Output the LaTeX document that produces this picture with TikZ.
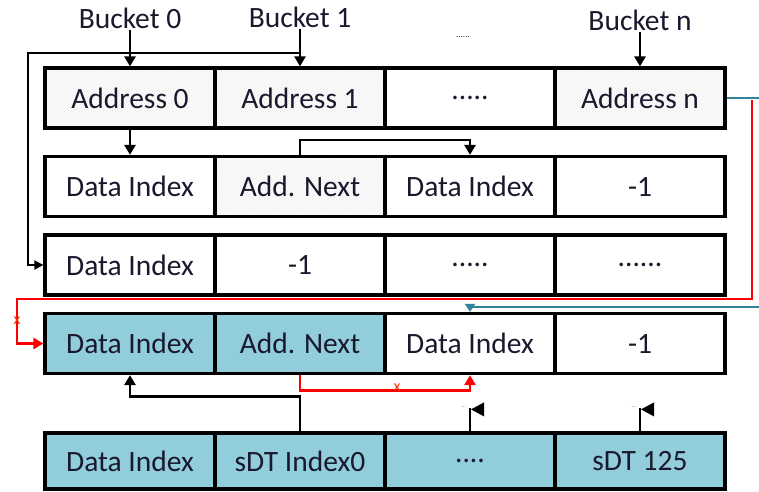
\documentclass[tikz,border=0pt]{standalone}
\usepackage{fontspec}
\setmainfont{Carlito}
\usetikzlibrary{arrows.meta,patterns,calc}
\definecolor{cellblue}{RGB}{146,205,220}
\definecolor{tealc}{RGB}{49,132,155}
\definecolor{txt}{RGB}{25,25,45}
\begin{document}
\begin{tikzpicture}[x=1pt,y=-1pt,
  cell/.style={draw,line width=3.2pt,minimum width=170pt,minimum height=60pt,inner sep=0pt,text=txt,font=\fontsize{29.5}{33}\selectfont},
  hatch/.style={pattern=north east lines,pattern color=black!9},
  bluec/.style={fill=cellblue},
  lbl/.style={text=txt,font=\fontsize{29.5}{33}\selectfont,inner sep=1pt},
  arr/.style={line width=2.8pt,-{Triangle[length=10pt,width=11pt]}},
  thinarr/.style={line width=1.8pt,-{Triangle[length=9pt,width=9pt]}},
  redarr/.style={draw=red,line width=2.8pt,-{Triangle[length=10pt,width=11pt]},red},
  tealarr/.style={draw=tealc,line width=2.6pt,-{Triangle[length=8pt,width=10pt]},tealc},
  xmark/.style={text=red!70!orange,font=\fontsize{16}{16}\selectfont,inner sep=0pt}
]
\useasboundingbox (0,0) rectangle (759,491);
% row 1
\node[cell,hatch] (a0) at (130,98) {Address 0};
\node[cell,hatch] (a1) at (300,98) {Address 1};
\node[cell] (a2) at (470,98) {.....};
\node[cell,hatch] (a3) at (640,98) {Address n};
% row 2
\node[cell] (b0) at (130,186.5) {Data Index};
\node[cell,hatch] (b1) at (300,186.5) {Add. Next};
\node[cell] (b2) at (470,186.5) {Data Index};
\node[cell] (b3) at (640,186.5) {-1};
% row 3
\node[cell] (c0) at (130,265) {Data Index};
\node[cell] (c1) at (300,265) {-1};
\node[cell] (c2) at (470,265) {.....};
\node[cell] (c3) at (640,265) {......};
% row 4
\node[cell,bluec] (d0) at (130,343.5) {Data Index};
\node[cell,bluec] (d1) at (300,343.5) {Add. Next};
\node[cell] (d2) at (470,343.5) {Data Index};
\node[cell] (d3) at (640,343.5) {-1};
% row 5
\node[cell,bluec,minimum height=56pt] (e0) at (130,461) {Data Index};
\node[cell,bluec,minimum height=56pt] (e1) at (300,461) {sDT Index0};
\node[cell,bluec,minimum height=56pt] (e2) at (470,461) {....};
\node[cell,bluec,minimum height=56pt] (e3) at (640,461) {sDT 125};
% bucket labels
\node[lbl] (bk0) at (130,18) {Bucket 0};
\node[lbl] (bk1) at (300,17) {Bucket 1};
\node[text=txt,font=\fontsize{9}{9}\selectfont,inner sep=0pt] (bkd) at (463,37) {......};
\node[lbl] (bkn) at (640,20) {Bucket n};
% bucket arrows
\draw[arr] (bk0.south) -- (a0.north);
\draw[arr] (bk1.south) -- (a1.north);
\draw[arr] (bkn.south) -- (a3.north);
% thin loop to row 3
\coordinate (tl) at (28,53);
\draw[thinarr] (a1.north |- tl) -- (tl) |- (c0.west);
% address 0 to data index
\draw[arr] (a0.south) -- (b0.north);
% add next to data index
\draw[arr] (b1.north) -- ++(0,-15) -| (b2.north);
% teal lines
\coordinate (tA) at (759,98);
\draw[draw=tealc,line width=2.6pt] (a3.east) -- (tA);
\coordinate (tB) at (759,307);
\draw[tealarr] (tB) -- (d2.north |- tB) -- (d2.north);
% red loop
\coordinate (rA) at (752,100);
\coordinate (rB) at (17,299);
\draw[redarr] (rA) |- (rB) |- (d0.west);
\node[xmark] (x1) at (17,321) {x};
% red bottom
\draw[redarr] (d1.south) -- ++(0,15) -| (d2.south);
\node[xmark] (x2) at (397,388) {x};
% black from sDT index0
\draw[arr] (e1.north) -- ++(0,-35) -| (d0.south);
% flags
\draw[line width=2.8pt] (e2.north) -- ++(0,-23) coordinate (f1);
\fill ($(f1)+(1,1)$) -- ++(13,-7) -- ++(0,14) -- cycle;
\node[text=tealc,font=\fontsize{6}{6}\selectfont,inner sep=0pt] (fd1) at ($(f1)+(-6,-1)$) {...};
\draw[line width=2.8pt] (e3.north) -- ++(0,-23) coordinate (f2);
\fill ($(f2)+(1,1)$) -- ++(13,-7) -- ++(0,14) -- cycle;
\node[text=tealc,font=\fontsize{6}{6}\selectfont,inner sep=0pt] (fd2) at ($(f2)+(-6,-1)$) {...};
\end{tikzpicture}
\end{document}
